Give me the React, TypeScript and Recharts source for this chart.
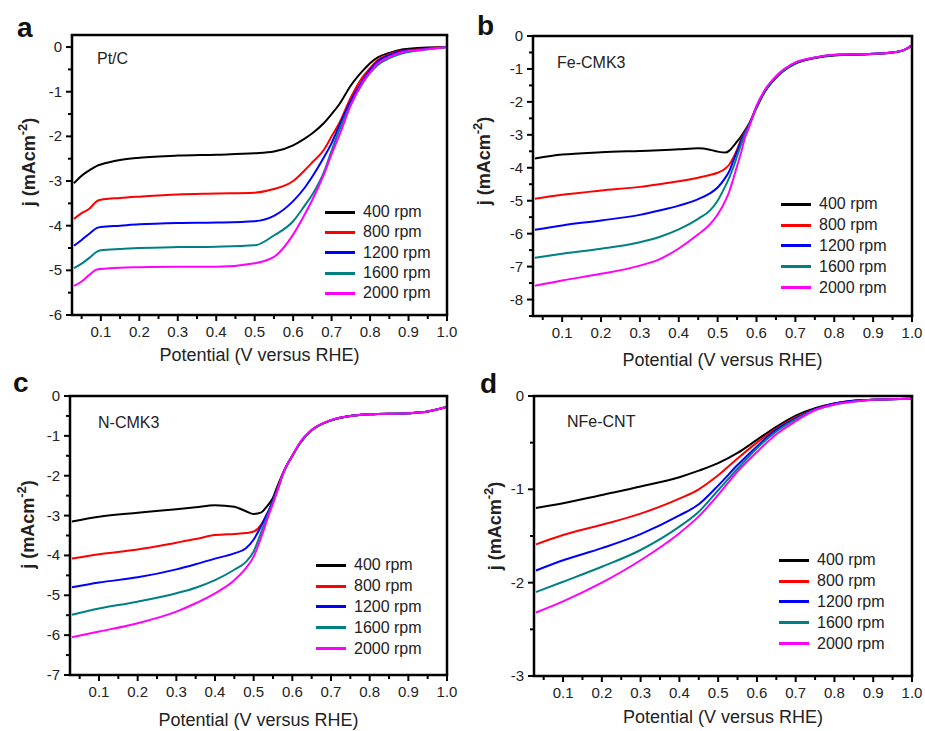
import React from 'react';
import { LineChart, Line, XAxis, YAxis, Legend } from 'recharts';

const FONT = '"Liberation Sans", Arial, Helvetica, sans-serif';
const TEXT = '#222222';

const SERIES_NAMES = ['400 rpm', '800 rpm', '1200 rpm', '1600 rpm', '2000 rpm'];
const SERIES_COLORS = ['#000000', '#ff0000', '#0000ff', '#008080', '#ff00ff'];

const X_MIN = 0.025;
const X_MAJOR = [0.1, 0.2, 0.3, 0.4, 0.5, 0.6, 0.7, 0.8, 0.9, 1.0];
const X_MINOR = [0.05, 0.15, 0.25, 0.35, 0.45, 0.55, 0.65, 0.75, 0.85, 0.95];
const X_TICKS = [...X_MINOR, ...X_MAJOR].sort((a, b) => a - b);

const Y_TICKS_A = [0, -0.5, -1, -1.5, -2, -2.5, -3, -3.5, -4, -4.5, -5, -5.5, -6];
const Y_TICKS_B = [0, -0.5, -1, -1.5, -2, -2.5, -3, -3.5, -4, -4.5, -5, -5.5, -6, -6.5, -7, -7.5, -8, -8.5];
const Y_TICKS_C = [0, -0.5, -1, -1.5, -2, -2.5, -3, -3.5, -4, -4.5, -5, -5.5, -6, -6.5, -7];
const Y_TICKS_D = [0, -0.5, -1, -1.5, -2, -2.5, -3];

// Panel a: Pt/C
const POT_A = [0.03, 0.05, 0.07, 0.09, 0.1, 0.15, 0.2, 0.3, 0.4, 0.5, 0.55, 0.6, 0.63, 0.65, 0.68, 0.7, 0.72, 0.75, 0.78, 0.8, 0.82, 0.85, 0.88, 0.9, 0.95, 1.0];
const PTC_400 = [-3.05, -2.88, -2.76, -2.66, -2.63, -2.53, -2.48, -2.43, -2.41, -2.38, -2.34, -2.2, -2.05, -1.93, -1.7, -1.5, -1.28, -0.86, -0.54, -0.36, -0.23, -0.13, -0.06, -0.04, -0.01, 0];
const PTC_800 = [-3.85, -3.72, -3.62, -3.45, -3.42, -3.38, -3.35, -3.3, -3.28, -3.26, -3.18, -3.0, -2.76, -2.58, -2.3, -2.0, -1.7, -1.13, -0.68, -0.47, -0.29, -0.16, -0.09, -0.07, -0.03, 0];
const PTC_1200 = [-4.45, -4.32, -4.18, -4.05, -4.03, -4.0, -3.97, -3.94, -3.93, -3.9, -3.78, -3.45, -3.15, -2.9, -2.47, -2.15, -1.76, -1.2, -0.76, -0.51, -0.32, -0.18, -0.1, -0.08, -0.04, 0];
const PTC_1600 = [-4.95, -4.85, -4.72, -4.58, -4.55, -4.52, -4.5, -4.48, -4.47, -4.44, -4.22, -3.9, -3.55, -3.3, -2.8, -2.32, -1.86, -1.28, -0.82, -0.58, -0.4, -0.25, -0.15, -0.11, -0.05, 0];
const PTC_2000 = [-5.35, -5.25, -5.1, -4.98, -4.97, -4.94, -4.93, -4.92, -4.92, -4.84, -4.7, -4.2, -3.75, -3.42, -2.85, -2.4, -1.98, -1.3, -0.8, -0.56, -0.37, -0.22, -0.12, -0.09, -0.05, 0];

// Panel b: Fe-CMK3
const POT_B = [0.03, 0.1, 0.2, 0.3, 0.35, 0.4, 0.45, 0.48, 0.5, 0.52, 0.53, 0.54, 0.55, 0.56, 0.57, 0.58, 0.6, 0.62, 0.65, 0.7, 0.75, 0.8, 0.9, 0.95, 0.98, 1.0];
const FE_400 = [-3.72, -3.6, -3.53, -3.49, -3.47, -3.44, -3.41, -3.45, -3.51, -3.54, -3.48, -3.35, -3.2, -3.05, -2.87, -2.68, -2.18, -1.72, -1.27, -0.84, -0.67, -0.59, -0.55, -0.5, -0.43, -0.29];
const FE_800 = [-4.94, -4.82, -4.69, -4.58, -4.5, -4.41, -4.3, -4.22, -4.15, -4.02, -3.9, -3.7, -3.45, -3.15, -2.9, -2.7, -2.15, -1.7, -1.25, -0.82, -0.66, -0.58, -0.54, -0.5, -0.42, -0.28];
const FE_1200 = [-5.88, -5.75, -5.6, -5.43, -5.3, -5.15, -4.95, -4.78, -4.6, -4.3, -4.1, -3.8, -3.5, -3.2, -2.92, -2.72, -2.15, -1.7, -1.25, -0.82, -0.66, -0.58, -0.54, -0.5, -0.42, -0.28];
const FE_1600 = [-6.73, -6.61, -6.46, -6.26, -6.1, -5.87, -5.55, -5.3, -5.0, -4.55, -4.3, -4.0, -3.65, -3.3, -2.98, -2.75, -2.15, -1.7, -1.25, -0.82, -0.66, -0.58, -0.54, -0.5, -0.42, -0.28];
const FE_2000 = [-7.58, -7.42, -7.22, -6.97, -6.78, -6.45, -6.02, -5.72, -5.42, -5.0, -4.72, -4.35, -3.95, -3.55, -3.1, -2.8, -2.12, -1.66, -1.22, -0.8, -0.65, -0.57, -0.54, -0.5, -0.42, -0.28];

// Panel c: N-CMK3
const POT_C = [0.03, 0.1, 0.2, 0.3, 0.35, 0.4, 0.45, 0.48, 0.5, 0.52, 0.53, 0.54, 0.55, 0.56, 0.58, 0.6, 0.62, 0.65, 0.7, 0.75, 0.8, 0.9, 0.95, 1.0];
const N_400 = [-3.15, -3.03, -2.93, -2.84, -2.79, -2.74, -2.78, -2.89, -2.96, -2.92, -2.82, -2.7, -2.55, -2.3, -1.85, -1.5, -1.18, -0.86, -0.61, -0.5, -0.46, -0.43, -0.39, -0.27];
const N_800 = [-4.08, -3.97, -3.85, -3.68, -3.59, -3.49, -3.46, -3.44, -3.4, -3.22, -3.05, -2.85, -2.62, -2.36, -1.85, -1.5, -1.18, -0.86, -0.61, -0.5, -0.46, -0.43, -0.39, -0.27];
const N_1200 = [-4.8, -4.68, -4.55, -4.35, -4.22, -4.08, -3.95, -3.82, -3.6, -3.25, -3.05, -2.85, -2.62, -2.38, -1.85, -1.5, -1.18, -0.86, -0.61, -0.5, -0.46, -0.43, -0.39, -0.27];
const N_1600 = [-5.49, -5.33, -5.16, -4.95, -4.81, -4.62, -4.36, -4.16, -3.9, -3.4, -3.15, -2.9, -2.66, -2.4, -1.85, -1.5, -1.18, -0.86, -0.61, -0.5, -0.46, -0.43, -0.39, -0.27];
const N_2000 = [-6.05, -5.91, -5.7, -5.41, -5.2, -4.95, -4.62, -4.32, -4.03, -3.53, -3.25, -2.96, -2.7, -2.42, -1.85, -1.5, -1.16, -0.85, -0.6, -0.5, -0.46, -0.43, -0.39, -0.27];

// Panel d: NFe-CNT
const POT_D = [0.03, 0.1, 0.2, 0.3, 0.4, 0.45, 0.5, 0.55, 0.6, 0.65, 0.7, 0.75, 0.8, 0.85, 0.9, 1.0];
const NFE_400 = [-1.2, -1.15, -1.06, -0.97, -0.87, -0.8, -0.72, -0.61, -0.47, -0.33, -0.21, -0.13, -0.08, -0.05, -0.04, -0.03];
const NFE_800 = [-1.59, -1.49, -1.38, -1.26, -1.1, -1.0, -0.85, -0.67, -0.5, -0.35, -0.23, -0.14, -0.08, -0.05, -0.04, -0.03];
const NFE_1200 = [-1.87, -1.76, -1.63, -1.48, -1.28, -1.16, -0.96, -0.74, -0.54, -0.36, -0.24, -0.14, -0.08, -0.05, -0.04, -0.03];
const NFE_1600 = [-2.1, -1.99, -1.83, -1.65, -1.4, -1.24, -1.01, -0.78, -0.56, -0.38, -0.25, -0.15, -0.09, -0.06, -0.04, -0.03];
const NFE_2000 = [-2.32, -2.2, -2.0, -1.76, -1.47, -1.29, -1.06, -0.81, -0.6, -0.41, -0.27, -0.15, -0.09, -0.06, -0.04, -0.03];

const Y_AXIS_W = 50;
const X_AXIS_H = 40;

type PanelCfg = {
  left: number; top: number; width: number; height: number;
  margin: { top: number; right: number; bottom: number; left: number };
  x: number[]; series: number[][];
  yDomain: [number, number]; yTicks: number[];
  legend: { left: number; top: number; row: number };
  xTitleGap: number; yTitleDx: number; yTitleDy: number;
};

const PANELS: PanelCfg[] = [
  {
    left: 0, top: 0, width: 462, height: 375,
    margin: { top: 35, right: 15, bottom: 20, left: 22 },
    x: POT_A, series: [PTC_400, PTC_800, PTC_1200, PTC_1600, PTC_2000],
    yDomain: [-6, 0.27], yTicks: Y_TICKS_A,
    legend: { left: 325, top: 202, row: 20.3 },
    xTitleGap: 46, yTitleDx: 37, yTitleDy: -13,
  },
  {
    left: 462, top: 0, width: 463, height: 375,
    margin: { top: 36, right: 13, bottom: 19, left: 21 },
    x: POT_B, series: [FE_400, FE_800, FE_1200, FE_1600, FE_2000],
    yDomain: [-8.5, 0], yTicks: Y_TICKS_B,
    legend: { left: 319, top: 194, row: 20.8 },
    xTitleGap: 50, yTitleDx: 43, yTitleDy: -15,
  },
  {
    left: 0, top: 365, width: 462, height: 366,
    margin: { top: 31, right: 15, bottom: 16, left: 20 },
    x: POT_C, series: [N_400, N_800, N_1200, N_1600, N_2000],
    yDomain: [-7, 0], yTicks: Y_TICKS_C,
    legend: { left: 316, top: 190, row: 20.8 },
    xTitleGap: 51, yTitleDx: 36, yTitleDy: -11,
  },
  {
    left: 462, top: 365, width: 463, height: 366,
    margin: { top: 31, right: 13, bottom: 15, left: 22 },
    x: POT_D, series: [NFE_400, NFE_800, NFE_1200, NFE_1600, NFE_2000],
    yDomain: [-3, 0], yTicks: Y_TICKS_D,
    legend: { left: 317, top: 185, row: 20.8 },
    xTitleGap: 47, yTitleDx: 33, yTitleDy: -10,
  },
];

const plotBox = (cfg: PanelCfg) => {
  const l = cfg.margin.left + Y_AXIS_W;
  const t = cfg.margin.top;
  return {
    x: cfg.left + l,
    y: cfg.top + t,
    w: cfg.width - l - cfg.margin.right,
    h: cfg.height - t - cfg.margin.bottom - X_AXIS_H,
  };
};

const PANEL_LETTERS = [
  { text: 'a', x: 17, y: 37 },
  { text: 'b', x: 477, y: 35 },
  { text: 'c', x: 13, y: 392 },
  { text: 'd', x: 480, y: 393 },
];
const PANEL_TITLES = [
  { text: 'Pt/C', x: 97, y: 64 },
  { text: 'Fe-CMK3', x: 557, y: 68 },
  { text: 'N-CMK3', x: 98, y: 428 },
  { text: 'NFe-CNT', x: 567, y: 427 },
];

const XTick = (props: any) => {
  const { x, y, payload } = props;
  const v = payload.value as number;
  const major = X_MAJOR.includes(v);
  return (
    <g>
      <line x1={x} x2={x} y1={y} y2={y + (major ? 6 : 4)} stroke="#000" strokeWidth={2} />
      {major && (
        <text x={x} y={y + 22} textAnchor="middle" fontSize={15} fontFamily={FONT} fill={TEXT}>
          {v.toFixed(1)}
        </text>
      )}
    </g>
  );
};

const YTick = (props: any) => {
  const { x, y, payload } = props;
  const v = payload.value as number;
  const major = Number.isInteger(v);
  return (
    <g>
      <line x1={x} x2={x - (major ? 6 : 4)} y1={y} y2={y} stroke="#000" strokeWidth={2} />
      {major && (
        <text x={x - 10} y={y + 5} textAnchor="end" fontSize={15} fontFamily={FONT} fill={TEXT}>
          {String(v)}
        </text>
      )}
    </g>
  );
};

const XTitle = (props: any) => {
  const { viewBox, gap } = props;
  if (!viewBox) return null;
  return (
    <text x={viewBox.x + viewBox.width / 2} y={viewBox.y + gap} textAnchor="middle" fontSize={18} fontFamily={FONT} fill={TEXT}>
      Potential (V versus RHE)
    </text>
  );
};

const YTitle = (props: any) => {
  const { viewBox, dxAxis, dyShift } = props;
  if (!viewBox) return null;
  const cx = viewBox.x + viewBox.width - dxAxis;
  const cy = viewBox.y + viewBox.height / 2 + dyShift;
  return (
    <text transform={`translate(${cx},${cy}) rotate(-90)`} textAnchor="middle" fontSize={18} fontWeight="bold" fontFamily={FONT} fill={TEXT}>
      <tspan>j (mAcm</tspan>
      <tspan dy={-8} fontSize={13}>-2</tspan>
      <tspan dy={8}>)</tspan>
    </text>
  );
};

const makeLegend = (row: number) => (props: any) => {
  const payload = [...(props.payload || [])].sort(
    (a: any, b: any) => SERIES_NAMES.indexOf(a.value) - SERIES_NAMES.indexOf(b.value)
  );
  return (
    <div style={{ fontFamily: FONT, fontSize: 16, color: TEXT }}>
      {payload.map((p: any, i: number) => (
        <div key={i} style={{ display: 'flex', alignItems: 'center', height: row, whiteSpace: 'nowrap' }}>
          <div style={{ width: 30, height: 3, background: p.color, marginRight: 8 }} />
          <span>{p.value}</span>
        </div>
      ))}
    </div>
  );
};

function Panel({ cfg }: { cfg: PanelCfg }) {
  const rows = cfg.x.map((xv, i) => {
    const r: any = { x: xv };
    cfg.series.forEach((s, j) => {
      r['s' + j] = s[i];
    });
    return r;
  });
  return (
    <div style={{ position: 'absolute', left: cfg.left, top: cfg.top, width: cfg.width, height: cfg.height }}>
      <LineChart width={cfg.width} height={cfg.height} data={rows} margin={cfg.margin}>
        <XAxis
          type="number"
          dataKey="x"
          domain={[X_MIN, 1]}
          ticks={X_TICKS}
          interval={0}
          tick={<XTick />}
          tickLine={false}
          axisLine={false}
          tickSize={0}
          tickMargin={0}
          height={X_AXIS_H}
          allowDataOverflow
          label={<XTitle gap={cfg.xTitleGap} />}
        />
        <YAxis
          type="number"
          domain={cfg.yDomain}
          ticks={cfg.yTicks}
          interval={0}
          tick={<YTick />}
          tickLine={false}
          axisLine={false}
          tickSize={0}
          tickMargin={0}
          width={Y_AXIS_W}
          allowDataOverflow
          label={<YTitle dxAxis={cfg.yTitleDx} dyShift={cfg.yTitleDy} />}
        />
        {cfg.series.map((_, j) => (
          <Line
            key={j}
            type="monotone"
            dataKey={'s' + j}
            name={SERIES_NAMES[j]}
            stroke={SERIES_COLORS[j]}
            strokeWidth={2}
            dot={false}
            activeDot={false}
            isAnimationActive={false}
          />
        ))}
        <Legend
          layout="vertical"
          align="center"
          verticalAlign="middle"
          wrapperStyle={{ left: cfg.legend.left, top: cfg.legend.top, width: 130, right: 'auto', bottom: 'auto' }}
          content={makeLegend(cfg.legend.row)}
        />
      </LineChart>
    </div>
  );
}

export default function App() {
  return (
    <div style={{ position: 'absolute', left: 0, top: 0, width: 925, height: 731, background: '#fff', overflow: 'hidden' }}>
      {PANELS.map((cfg, i) => (
        <Panel key={i} cfg={cfg} />
      ))}
      <svg width={925} height={731} style={{ position: 'absolute', left: 0, top: 0, pointerEvents: 'none' }}>
        {PANELS.map((cfg, i) => {
          const b = plotBox(cfg);
          return (
            <g key={'f' + i}>
              <line x1={b.x - 1.25} x2={b.x + b.w + 1.25} y1={b.y} y2={b.y} stroke="#000" strokeWidth={2.5} />
              <line x1={b.x - 1.25} x2={b.x + b.w + 1.25} y1={b.y + b.h} y2={b.y + b.h} stroke="#000" strokeWidth={2.5} />
              <line x1={b.x} x2={b.x} y1={b.y} y2={b.y + b.h} stroke="#000" strokeWidth={2.5} />
              <line x1={b.x + b.w} x2={b.x + b.w} y1={b.y} y2={b.y + b.h} stroke="#000" strokeWidth={2.5} />
            </g>
          );
        })}
        {PANEL_LETTERS.map((l, i) => (
          <text key={i} x={l.x} y={l.y} fontSize={28} fontWeight="bold" fontFamily={FONT} fill="#111">
            {l.text}
          </text>
        ))}
        {PANEL_TITLES.map((l, i) => (
          <text key={i} x={l.x} y={l.y} fontSize={16} fontFamily={FONT} fill={TEXT}>
            {l.text}
          </text>
        ))}
      </svg>
    </div>
  );
}
